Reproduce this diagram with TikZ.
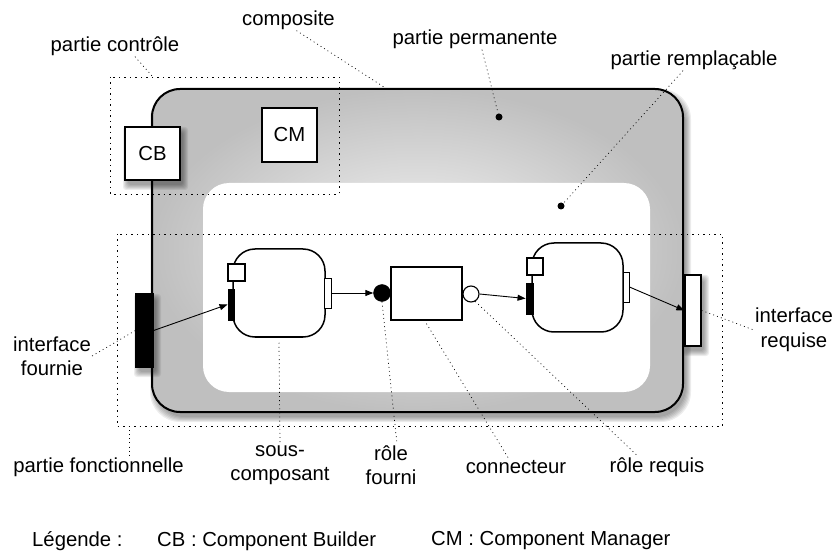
\documentclass[tikz,border=0pt]{standalone}
\usepackage{fontspec}
\setmainfont{Liberation Sans}
\usetikzlibrary{arrows.meta}
\def\softshadow[#1](#2,#3)(#4,#5){\foreach \k in {0,...,5}{\fill[black, opacity=0.07, #1] (#2+3-\k, #3+5-\k) rectangle (#4+3+\k, #5+5+\k);}}
\tikzset{
  lbl/.style={font=\fontsize{20.3}{24.5}\selectfont, inner sep=1pt, align=center},
  leader/.style={line width=0.7pt, dash pattern=on 0.9pt off 3.2pt},
  zone/.style={line width=0.8pt, dash pattern=on 1.5pt off 4pt},
  wbox/.style={draw, line width=1.3pt, fill=white, inner sep=0pt},
  bar/.style={draw, line width=0.9pt, inner sep=0pt},
  sub/.style={wbox, line width=1.5pt, rounded corners=22pt},
  dot/.style={circle, fill=black, inner sep=0pt, minimum size=7pt},
  arr/.style={line width=0.9pt, -{Triangle[length=8pt,width=6pt]}}
}

\begin{document}
\begin{tikzpicture}[x=1pt,y=-1pt]
		%%%%% START %%%%%
		\useasboundingbox (0,0) rectangle (836,556);
		
		% composite
		\softshadow[rounded corners=30pt](152,89)(683,412)
		\draw[line width=2pt, rounded corners=28pt, inner color=black!4, outer color=black!25] (152,89) rectangle (683,412);
		\fill[white, rounded corners=26pt] (203,183) rectangle (650,392);
		
		\draw[zone] (110,77) rectangle (339,194);
		\draw[zone] (117,234) rectangle (722,426);
		
		\softshadow[rounded corners=3pt](125,127)(180,180)
		\node[wbox, lbl, minimum width=55pt, minimum height=53pt] (cb) at (152.5,153.5) {CB};
		\node[wbox, lbl, minimum width=55pt, minimum height=54pt] (cm) at (289.5,135) {CM};
		
		\softshadow[rounded corners=3pt](136,294)(153,367)
		\node[bar, fill=black, line width=1.3pt, minimum width=17pt, minimum height=73pt] (ifournie) at (144.5,330.5) {};
		\softshadow[rounded corners=3pt](685,275)(701,346)
		\node[wbox, minimum width=16pt, minimum height=71pt] (irequise) at (693,310.5) {};
		
		% sous-composant 1
		\node[sub, minimum width=92pt, minimum height=88pt] (sub1) at (279,293) {};
		\node[bar, fill=white, line width=1.1pt, minimum size=17pt] (sq1) at (236.5,272.5) {};
		\node[bar, fill=black, minimum width=6pt, minimum height=31pt] (pl1) at (231,304.5) {};
		\node[bar, fill=white, minimum width=7pt, minimum height=30pt] (pr1) at (327.5,293) {};
		
		% connecteur
		\node[circle, draw, fill=black, inner sep=0pt, minimum size=17pt] (rfourni) at (382,293) {};
		\node[wbox, minimum width=71pt, minimum height=53pt] (conn) at (426.5,293.5) {};
		\node[circle, draw, fill=white, line width=1.1pt, inner sep=0pt, minimum size=16pt] (rrequis) at (471,294) {};
		
		% sous-composant 2
		\node[sub, minimum width=91pt, minimum height=89pt] (sub2) at (577.5,287.5) {};
		\node[bar, fill=white, line width=1.1pt, minimum width=16pt, minimum height=17pt] (sq2) at (535,266.5) {};
		\node[bar, fill=black, minimum width=7pt, minimum height=31pt] (pl2) at (529.5,298.5) {};
		\node[bar, fill=white, minimum width=6pt, minimum height=30pt] (pr2) at (626,287) {};
		
		\draw[arr] (ifournie.east) -- (pl1.west);
		\draw[arr] (pr1.east) -- (rfourni.west);
		\draw[arr] (rrequis.east) -- (pl2.west);
		\draw[arr] (pr2.east) -- (irequise.west);
		
		% labels
		\node[lbl] (lcomposite) at (288.5,20) {composite};
		\node[lbl] (lctrl) at (115,46) {partie contrôle};
		\node[lbl] (lperm) at (475,39) {partie permanente};
		\node[lbl] (lrempl) at (694,60) {partie remplaçable};
		\node[lbl] (lireq) at (794,330) {interface\\requise};
		\node[lbl] (lifour) at (52,356) {interface\\fournie};
		\node[lbl] (lfonc) at (98.5,467) {partie fonctionnelle};
		\node[lbl] (lsous) at (280,465) {sous-\\composant};
		\node[lbl] (lrfourni) at (391,465) {rôle\\fourni};
		\node[lbl] (lconn) at (516,467) {connecteur};
		\node[lbl] (lrreq) at (657,467) {rôle requis};
		
		\node[dot] (dperm) at (499,117) {};
		\node[dot] (drempl) at (561,206) {};
		\coordinate (pcomposite) at (387,89);
		\coordinate (pctrl) at (153,77);
		\coordinate (pfonc) at (129,426);
		
		\draw[leader] ([xshift=8pt]lcomposite.south) -- (pcomposite);
		\draw[leader] ([xshift=20pt]lctrl.south) -- (pctrl);
		\draw[leader] ([xshift=7pt]lperm.south) -- (dperm);
		\draw[leader] ([xshift=-11pt]lrempl.south) -- (drempl);
		\draw[leader] (irequise.east) -- (lireq.west);
		\draw[leader] (lifour.east) -- (ifournie.west);
		\draw[leader] (pfonc) -- ([xshift=30.5pt]lfonc.north);
		\draw[leader] ([yshift=-5pt]sub1.south) -- (lsous.north);
		\draw[leader] (rfourni.south) -- ([xshift=6pt]lrfourni.north);
		\draw[leader] ([yshift=-3pt]conn.south) -- ([xshift=-7pt]lconn.north);
		\draw[leader] (rrequis.-60) -- ([xshift=-19pt]lrreq.north);
		
		% legende
		\node[lbl, anchor=west] (lleg) at (31,541) {Légende :};
		\node[lbl, anchor=west] (lcb) at (156,541) {CB : Component Builder};
		\node[lbl, anchor=west] (lcm) at (430,541) {CM : Component Manager};
		%%%%% END %%%%%
	\end{tikzpicture}
\end{document}
